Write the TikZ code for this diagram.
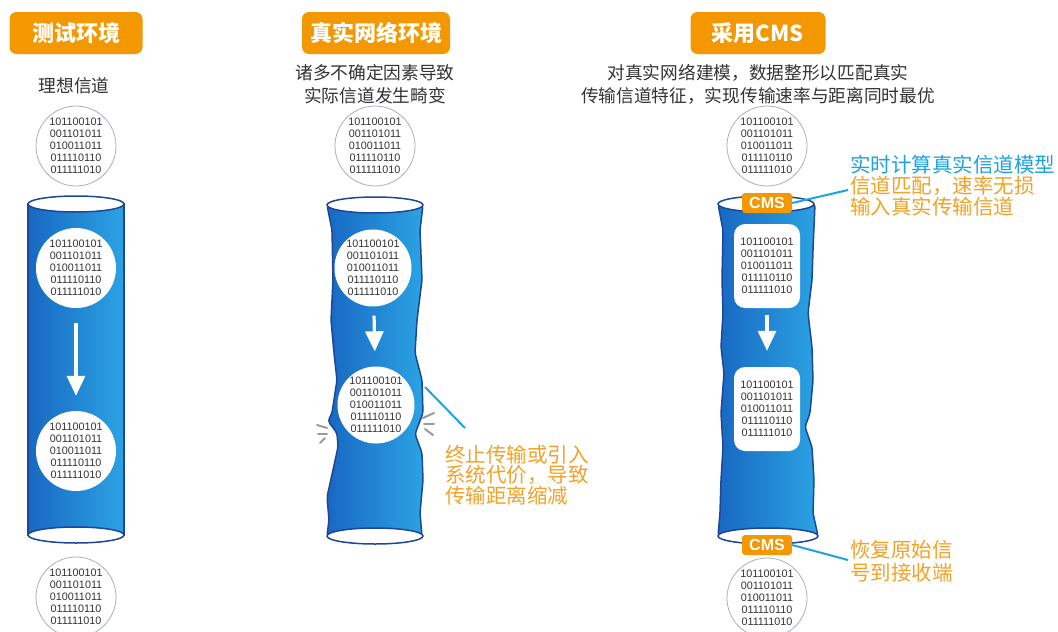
\documentclass[tikz,border=0pt]{standalone}
\usepackage{fontspec}
\setmainfont{Noto Sans CJK SC}
\newfontfamily\digitfont{Liberation Sans}
\usetikzlibrary{arrows.meta}

\definecolor{cmsorange}{HTML}{F39800}
\definecolor{noteorange}{HTML}{F2A227}
\definecolor{tubedark}{HTML}{1868C2}
\definecolor{tubelight}{HTML}{2BA3E3}
\definecolor{tubeedge}{HTML}{1D4796}
\definecolor{leadblue}{HTML}{1CA3E0}
\definecolor{ringgrey}{HTML}{A9B1BB}
\definecolor{textgrey}{HTML}{333333}
\definecolor{straingrey}{HTML}{9A9A9A}

\newcommand\bitrows{101100101\\001101011\\010011011\\011110110\\011111010}

\begin{document}
\begin{tikzpicture}[x=1pt,y=-1pt]
        \tikzstyle{title}=[rectangle,rounded corners=7pt,fill=cmsorange,text=white,minimum height=42pt,inner sep=0pt,font=\fontsize{22}{24}\selectfont\bfseries]
        \tikzstyle{note}=[text=textgrey,align=center,inner sep=0pt,font=\fontsize{17.7}{23}\selectfont]
        \tikzstyle{bitball}=[circle,fill=white,minimum size=80pt,inner sep=0pt,align=center,text=textgrey,font=\digitfont\fontsize{10.8}{12}\selectfont]
        \tikzstyle{outball}=[bitball,draw=ringgrey,line width=0.8pt]
        \tikzstyle{bitcard}=[bitball,rectangle,rounded corners=11pt,minimum width=66pt,minimum height=84pt]
        \tikzstyle{cmstag}=[rectangle,rounded corners=3pt,fill=cmsorange,text=white,minimum width=50pt,minimum height=20pt,inner sep=0pt,font=\digitfont\fontsize{16}{18}\selectfont\bfseries]
        \tikzstyle{flow}=[white,line width=3.2pt,-{Triangle[width=18pt,length=20pt]}]
        \tikzstyle{callout}=[text=noteorange,align=left,anchor=west,inner sep=0pt,font=\fontsize{20.5}{20.5}\selectfont]
        \tikzstyle{leader}=[draw=leadblue,line width=2pt]
        \tikzstyle{tube}=[left color=tubedark,right color=tubelight,draw=tubeedge,line width=1.5pt,rounded corners=3pt]
        \tikzstyle{rim}=[fill=white,draw=tubeedge,line width=1.5pt]
        \tikzstyle{strain}=[draw=straingrey,line width=2pt,line cap=round]

        \fill[white] (0,0) rectangle (1058,632);
        \useasboundingbox (0,0) rectangle (1058,632);

        % ideal channel
        \begin{scope}
           \node [title,minimum width=133pt] (t1) at (76,33) {测试环境};
           \node [note] (s1) at (74,86) {理想信道};
           \node [outball] (a1) at (76,146) {\bitrows};
           \shadedraw[tube,rounded corners=0pt] (28,204) -- (28,535) -- (124,535) -- (124,204) -- cycle;
           \draw[rim] (76,204) ellipse [x radius=48,y radius=8];
           \draw[rim] (76,535) ellipse [x radius=48,y radius=8];
           \node [bitball] (a2) at (76,268) {\bitrows};
           \node [bitball] (a3) at (76,451) {\bitrows};
           \draw[flow,shorten <=15pt,shorten >=15pt] (a2) -- (a3);
           \node [outball] (a4) at (76,597) {\bitrows};
        \end{scope}

        % real network
        \begin{scope}
           \node [title,minimum width=148pt] (t2) at (376,33) {真实网络环境};
           \node [note] (s2) at (375,84) {诸多不确定因素导致\\实际信道发生畸变};
           \node [outball] (b1) at (375,146) {\bitrows};
           \shadedraw[tube] (327,205) -- (332,230) -- (333,280) -- (331,320) -- (334,353) -- (337,380)
              -- (332,413) -- (328,421) -- (337,433) -- (338,447) -- (333,470) -- (327,497) -- (329,520)
              -- (327,536) -- (422,536) -- (420,513) -- (423,480) -- (422,453) -- (415,434) -- (423,413)
              -- (422,380) -- (415,353) -- (417,320) -- (422,280) -- (420,230) -- (423,205) -- cycle;
           \draw[rim] (375,205) ellipse [x radius=48,y radius=8];
           \draw[rim] (375,536) ellipse [x radius=48,y radius=8];
           \node [bitball,minimum size=76pt] (b2) at (373,268) {\bitrows};
           \node [bitball,minimum size=76pt] (b3) at (376,405) {\bitrows};
           \draw[flow,shorten <=9pt,shorten >=15pt] (b2) -- (b3);
           \draw[strain] (317,425) -- (327,428);
           \draw[strain] (318,434) -- (327,434);
           \draw[strain] (320,443) -- (325,438);
           \draw[strain] (423,418) -- (434,413);
           \draw[strain] (424,424) -- (434,424);
           \draw[strain] (425,429) -- (433,435);
           \node [callout] (n2) at (445,475) {终止传输或引入\\系统代价，导致\\传输距离缩减};
           \coordinate (p1) at (425,387);
           \coordinate (p2) at (465,428);
           \path[leader] (p1) edge (p2);
        \end{scope}

        % CMS
        \begin{scope}
           \node [title,minimum width=135pt] (t3) at (758,33) {采用CMS};
           \node [note] (s3) at (758,84) {对真实网络建模，数据整形以匹配真实\\传输信道特征，实现传输速率与距离同时最优};
           \node [outball] (c1) at (767,146) {\bitrows};
           \shadedraw[tube] (718,204) -- (723,230) -- (722,280) -- (723,313) -- (721,347) -- (724,373)
              -- (721,413) -- (723,447) -- (721,480) -- (720,513) -- (718,536) -- (818,536) -- (813,513)
              -- (814,480) -- (812,447) -- (805,427) -- (810,413) -- (813,380) -- (812,347) -- (808,313)
              -- (812,280) -- (813,250) -- (815,204) -- cycle;
           \draw[rim] (766,204) ellipse [x radius=48,y radius=8];
           \draw[rim] (768,536) ellipse [x radius=50,y radius=8];
           \node [cmstag] (m1) at (767,203) {CMS};
           \node [bitcard] (c2) at (767,266) {\bitrows};
           \node [bitcard] (c3) at (767,409) {\bitrows};
           \draw[flow,shorten <=7pt,shorten >=16pt] (c2) -- (c3);
           \node [cmstag] (m2) at (767,545) {CMS};
           \node [outball] (c4) at (767,598) {\bitrows};
           \node [callout,text=leadblue] (n3) at (850,165) {实时计算真实信道模型};
           \node [callout,font=\fontsize{20.5}{21}\selectfont] (n4) at (850,196) {信道匹配，速率无损\\输入真实传输信道};
           \node [callout,font=\fontsize{20.5}{23}\selectfont] (n5) at (850,561) {恢复原始信\\号到接收端};
           \coordinate (q1) at (848,190);
           \coordinate (q2) at (848,560);
           \path[leader] (m1.east) edge (q1);
           \path[leader] (m2.east) edge (q2);
        \end{scope}
\end{tikzpicture}
\end{document}
